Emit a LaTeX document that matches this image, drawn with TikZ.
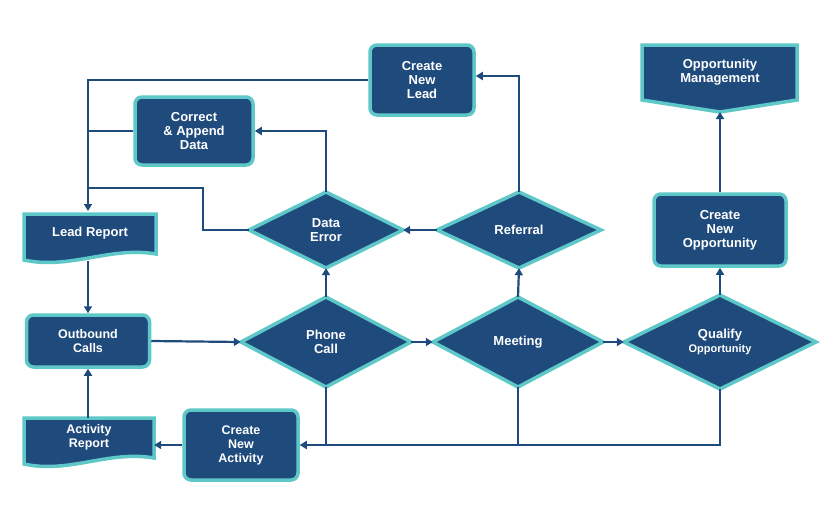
\documentclass[tikz,border=0pt]{standalone}
\usepackage{fontspec}
\setmainfont{Liberation Sans}
\usetikzlibrary{arrows.meta}
\definecolor{db}{HTML}{1F4A7C}
\definecolor{tl}{HTML}{5EC8C8}
\begin{document}
\begin{tikzpicture}[x=1pt,y=-1pt,
  box/.style={draw=tl,fill=db,line width=3.5pt,rounded corners=7pt,text=white,font=\bfseries\fontsize{13}{14}\selectfont,align=center,inner sep=0pt},
  shp/.style={draw=tl,fill=db,line width=3.5pt,line join=miter},
  lbl/.style={text=white,font=\bfseries\fontsize{13}{14}\selectfont,align=center,inner sep=0pt},
  con/.style={draw=db,line width=2.2pt,-{Triangle[length=7pt,width=8pt]}},
  ln/.style={draw=db,line width=2.2pt}]
\useasboundingbox[fill=white] (0,0) rectangle (840,507);
% helper
\newcommand{\mkdia}[6]{%
  \fill[db] (#2-#4,#3) -- (#2,#3-#5) -- (#2+#4,#3) -- (#2,#3+#5) -- cycle;
  \draw[shp] (#2-#4,#3) -- (#2,#3-#5) -- (#2+#4,#3) -- (#2,#3+#5) -- cycle;
  \node[lbl,minimum width=2*#4,minimum height=2*#5] (#1) at (#2,#3) {#6};}
\newcommand{\mkdoc}[6]{%
  \draw[shp] (#2-#4,#3-#5) -- (#2+#4,#3-#5) -- (#2+#4,#3+#5-4) .. controls (#2+20,#3+#5-12) and (#2-20,#3+#5+12) .. (#2-#4,#3+#5+2) -- cycle;
  \node[lbl,minimum width=2*#4,minimum height=2*#5] (#1) at (#2,#3-3) {#6};}
% connectors first (under shapes)
\node[box,minimum width=104,minimum height=70] (cnl) at (422,80) {Create\\New\\Lead};
\node[box,minimum width=118,minimum height=68] (cad) at (194,131) {Correct\\\& Append\\Data};
\node[box,minimum width=132,minimum height=72] (cno) at (720,230) {Create\\New\\Opportunity};
\node[box,minimum width=123,minimum height=52,font=\bfseries\fontsize{12.5}{14}\selectfont] (obc) at (88,341) {Outbound\\Calls};
\node[box,minimum width=114,minimum height=70,font=\bfseries\fontsize{12.5}{14}\selectfont] (cna) at (241,445) {Create\\New\\Activity};
\draw[shp] (642,45) -- (797,45) -- (797,100) -- (720,112) -- (642,100) -- cycle;
\node[lbl] (opm) at (720,72) {Opportunity\\Management};
\coordinate (opmb) at (720,112);
\mkdia{der}{326}{230}{77}{38}{Data\\Error}
\mkdia{ref}{519}{230}{82}{38}{Referral}
\mkdia{phc}{326}{342}{85}{45}{Phone\\Call}
\mkdia{mtg}{518}{342}{85}{45}{Meeting}
\mkdia{qop}{720}{342}{96}{47}{Qualify\\{\fontsize{11}{12}\selectfont Opportunity}}
\mkdoc{lrp}{90}{236}{66}{22}{Lead Report}
\mkdoc{arp}{89}{440}{65}{22}{{\fontsize{12.5}{14}\selectfont Activity}\\{\fontsize{12.5}{14}\selectfont Report}}
% connectors
\coordinate (jx) at (88,80);
\draw[con] (cnl.west) -- (88,80) -- (88,211);
\draw[ln] (cad.west) -- (88,131);
\draw[ln] (der.west) -- (203,230) -- (203,188) -- (88,188);
\draw[con] (der.north) -- (326,131) -- (cad.east);
\draw[con] (ref.north) -- (519,76) -- (cnl.east|-519,76);
\draw[con] (ref.west) -- (der.east);
\draw[con] (phc.north) -- (der.south);
\draw[con] (mtg.north) -- (ref.south);
\draw[con] (qop.north) -- (cno.south);
\draw[con] (cno.north) -- (opmb);
\draw[con] (88,261) -- (obc.north);
\draw[con] (obc.east) -- (phc.west);
\draw[con] (phc.east) -- (mtg.west);
\draw[con] (mtg.east) -- (qop.west);
\draw[ln] (phc.south) -- (326,445);
\draw[ln] (mtg.south) -- (518,445);
\draw[con] (qop.south) -- (720,445) -- (cna.east);
\draw[con] (cna.west) -- (arp.east|-cna.west);
\draw[con] (88,418) -- (obc.south);
\end{tikzpicture}
\end{document}
